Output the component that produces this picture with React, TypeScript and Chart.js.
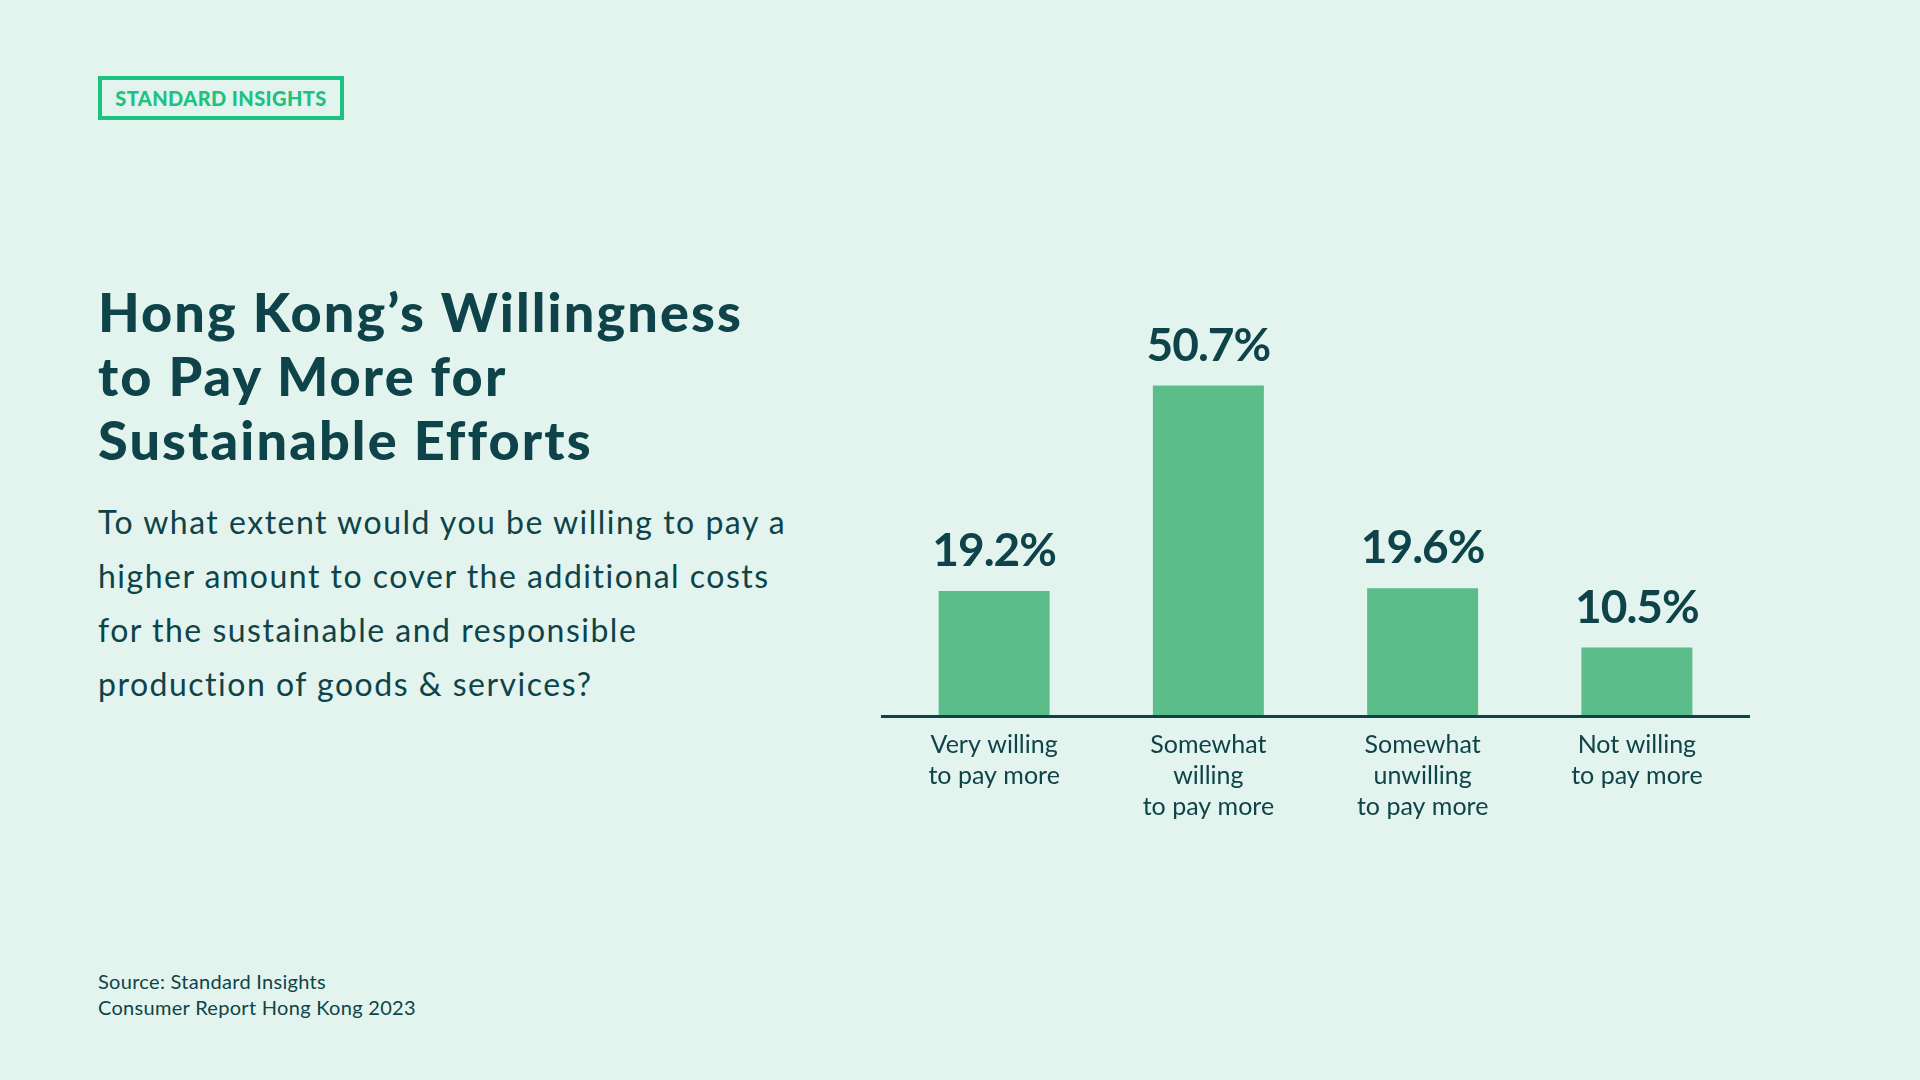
import React, { useEffect, useRef } from "react";
import { Chart, registerables } from "chart.js";

Chart.register(...registerables);

const categories: string[][] = [
  ["Very willing", "to pay more"],
  ["Somewhat", "willing", "to pay more"],
  ["Somewhat", "unwilling", "to pay more"],
  ["Not willing", "to pay more"],
];
const values: number[] = [19.2, 50.7, 19.6, 10.5];
const valueLabels: string[] = ["19.2%", "50.7%", "19.6%", "10.5%"];
const yMax = 60;

const DARK = "#0e4449";
const BAR = "#5abd8a";
const BG = "#e3f4ee";
const LOGO = "#1cc27f";

const valueLabelPlugin = {
  id: "valueLabels",
  afterDatasetsDraw(chart: any) {
    const meta = chart.getDatasetMeta(0);
    const ctx = chart.ctx as CanvasRenderingContext2D;
    ctx.save();
    ctx.fillStyle = DARK;
    ctx.font = "bold 46px Lato";
    (ctx as any).letterSpacing = "-1px";
    ctx.textAlign = "center";
    ctx.textBaseline = "alphabetic";
    meta.data.forEach((bar: any, i: number) => {
      ctx.fillText(valueLabels[i], bar.x, bar.y - 25);
    });
    ctx.restore();
  },
};

// baseline rule, slightly overhanging the category band like the reference
const axisLinePlugin = {
  id: "axisLine",
  afterDraw(chart: any) {
    const { ctx, chartArea } = chart;
    ctx.save();
    ctx.strokeStyle = DARK;
    ctx.lineWidth = 3;
    ctx.beginPath();
    ctx.moveTo(chartArea.left - 6, chartArea.bottom + 0.5);
    ctx.lineTo(chartArea.right + 6, chartArea.bottom + 0.5);
    ctx.stroke();
    ctx.restore();
  },
};

function BarChart() {
  const ref = useRef<HTMLCanvasElement | null>(null);
  useEffect(() => {
    if (!ref.current) return;
    const chart = new Chart(ref.current, {
      type: "bar",
      data: {
        labels: categories as any,
        datasets: [
          {
            data: values,
            backgroundColor: BAR,
            borderWidth: 0,
            barPercentage: 0.518,
            categoryPercentage: 1,
          },
        ],
      },
      options: {
        animation: false,
        responsive: false,
        devicePixelRatio: 1,
        layout: { padding: { top: 45, left: 6, right: 6, bottom: 0 } },
        plugins: {
          legend: { display: false },
          tooltip: { enabled: false },
        },
        scales: {
          x: {
            grid: { display: false, drawTicks: false },
            border: { display: false },
            ticks: {
              color: DARK,
              font: { family: "Lato", size: 25, lineHeight: 1.25 },
              padding: 13,
              maxRotation: 0,
              autoSkip: false,
            },
            afterFit: (scale: any) => {
              scale.height = 120;
            },
          },
          y: {
            display: false,
            min: 0,
            max: yMax,
          },
        },
      },
      plugins: [valueLabelPlugin, axisLinePlugin],
    });
    return () => chart.destroy();
  }, []);
  return <canvas ref={ref} width={869} height={556} style={{ display: "block" }} />;
}

export default function App() {
  return (
    <div
      style={{
        position: "absolute",
        left: 0,
        top: 0,
        width: 1920,
        height: 1080,
        background: BG,
        overflow: "hidden",
        fontFamily: "Lato, sans-serif",
        color: DARK,
      }}
    >
      <div
        style={{
          position: "absolute",
          left: 98,
          top: 76,
          width: 246,
          height: 44,
          boxSizing: "border-box",
          border: `4px solid ${LOGO}`,
          display: "flex",
          alignItems: "center",
          justifyContent: "center",
          color: LOGO,
          fontWeight: 900,
          fontSize: 20,
          letterSpacing: 0.4,
        }}
      >
        STANDARD INSIGHTS
      </div>
      <div
        style={{
          position: "absolute",
          left: 98,
          top: 280,
          width: 800,
          fontSize: 54,
          lineHeight: "64px",
          fontWeight: 900,
          letterSpacing: 2.1,
          whiteSpace: "nowrap",
        }}
      >
        Hong Kong’s Willingness
        <br />
        to Pay More for
        <br />
        Sustainable Efforts
      </div>
      <div
        style={{
          position: "absolute",
          left: 98,
          top: 495,
          width: 800,
          fontSize: 32,
          lineHeight: "54px",
          fontWeight: 400,
          letterSpacing: 1.5,
          whiteSpace: "nowrap",
        }}
      >
        To what extent would you be willing to pay a
        <br />
        higher amount to cover the additional costs
        <br />
        for the sustainable and responsible
        <br />
        production of goods &amp; services?
      </div>
      <div style={{ position: "absolute", left: 881, top: 280 }}>
        <BarChart />
      </div>
      <div
        style={{
          position: "absolute",
          left: 98,
          top: 968,
          fontSize: 20,
          lineHeight: "26px",
          letterSpacing: 0.3,
          whiteSpace: "nowrap",
        }}
      >
        Source: Standard Insights
        <br />
        Consumer Report Hong Kong 2023
      </div>
    </div>
  );
}
